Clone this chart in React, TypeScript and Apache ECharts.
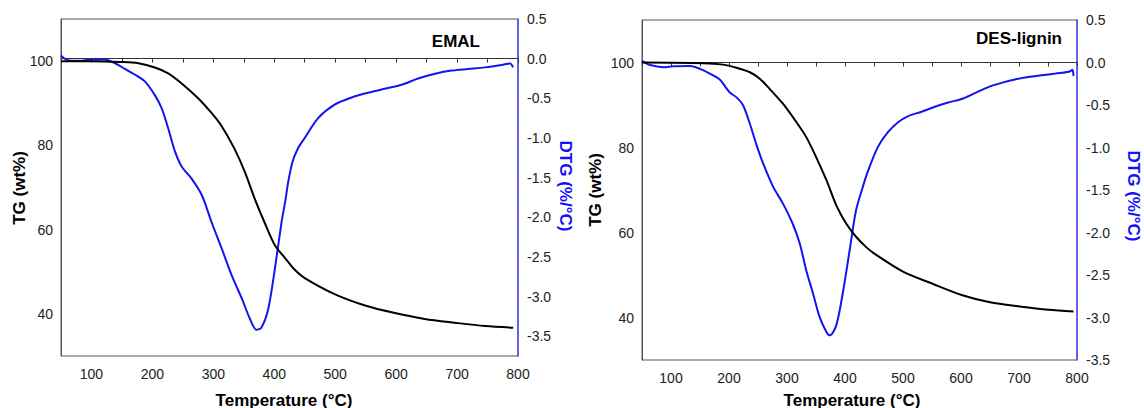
import React, { useEffect, useRef } from 'react';
import * as echarts from 'echarts';

// ---- EMAL ----
const emalTgTemp = [50, 100, 149, 177, 204, 226, 248, 275, 297, 314, 335, 352, 368, 385, 401, 418, 434, 450, 499, 549, 598, 647, 696, 746, 792];
const emalTg = [100, 100, 99.8, 99.5, 98.5, 97.1, 94.7, 91.2, 87.7, 84.5, 79.1, 73.6, 67.3, 61.4, 56.3, 53.2, 50.4, 48.5, 44.7, 42.0, 40.2, 38.8, 37.9, 37.1, 36.7];
const emalDtgTemp = [50, 56, 67, 84, 100, 122, 138, 155, 171, 188, 204, 215, 226, 237, 248, 264, 281, 297, 314, 330, 347, 360, 371, 379, 390, 401, 412, 418, 423, 430, 439, 450, 472, 499, 527, 554, 581, 609, 636, 664, 691, 718, 746, 773, 787, 792];
const emalDtg = [0.04, 0, -0.025, -0.025, -0.01, -0.01, -0.055, -0.13, -0.2, -0.29, -0.46, -0.62, -0.88, -1.17, -1.36, -1.51, -1.72, -2.06, -2.4, -2.73, -3.03, -3.28, -3.42, -3.39, -3.16, -2.65, -2.06, -1.8, -1.55, -1.3, -1.13, -1.0, -0.75, -0.58, -0.49, -0.43, -0.38, -0.33, -0.25, -0.19, -0.15, -0.13, -0.11, -0.08, -0.06, -0.11];

// ---- DES-lignin ----
const desTgTemp = [50, 156, 190, 213, 236, 253, 270, 293, 316, 333, 350, 368, 385, 402, 419, 437, 450, 500, 550, 601, 650, 701, 751, 794];
const desTg = [100, 99.85, 99.5, 98.75, 97.7, 96.2, 93.8, 90.3, 86.0, 82.5, 77.8, 72.3, 66.4, 62.1, 59.0, 56.5, 55.1, 50.8, 48.0, 45.3, 43.6, 42.6, 41.8, 41.4];
const desDtgTemp = [50, 64, 87, 104, 133, 150, 167, 184, 201, 213, 224, 236, 247, 259, 276, 293, 310, 322, 333, 345, 356, 368, 374, 385, 396, 408, 419, 430, 440, 457, 474, 492, 509, 532, 555, 578, 601, 624, 647, 670, 693, 716, 739, 763, 786, 792, 794];
const desDtg = [0.02, -0.03, -0.055, -0.043, -0.04, -0.075, -0.13, -0.2, -0.35, -0.41, -0.5, -0.72, -0.96, -1.19, -1.46, -1.66, -1.9, -2.13, -2.44, -2.72, -2.99, -3.17, -3.21, -3.09, -2.72, -2.21, -1.74, -1.48, -1.27, -0.99, -0.82, -0.7, -0.63, -0.58, -0.52, -0.47, -0.43, -0.36, -0.29, -0.24, -0.2, -0.17, -0.15, -0.13, -0.11, -0.086, -0.16];

// ---- axes / labels ----
const tgTickLabels = [40, 60, 80, 100];
const panelTitles = ['EMAL', 'DES-lignin'];
const xName = 'Temperature (°C)';
const tgName = 'TG (wt%)';
const dtgName = 'DTG (%/°C)';

const FONT = '"Liberation Sans", Arial, sans-serif';
const BLUE = '#1414f0';
const BLUE_AXIS = '#4a4aff';

const pairs = (xs: number[], ys: number[]) => xs.map((x, i) => [x, ys[i]]);

const labelStyle = { fontFamily: FONT, fontSize: 14, color: '#222' };

function xAxisDef(gridIndex: number) {
  return {
    type: 'value',
    gridIndex,
    min: 50,
    max: 800,
    interval: 50,
    axisLine: { show: true, lineStyle: { color: '#333', width: 1 } },
    axisTick: { show: true, length: 4, inside: false, lineStyle: { color: '#333' } },
    axisLabel: {
      ...labelStyle,
      margin: 11,
      interval: 0,
      showMinLabel: true,
      showMaxLabel: true,
      formatter: (v: number) => (v % 100 === 0 ? String(v) : ''),
    },
    splitLine: { show: false },
  };
}

function tgAxisDef(gridIndex: number) {
  return {
    type: 'value',
    gridIndex,
    position: 'left',
    min: 30,
    max: 110,
    interval: 10,
    axisLine: { show: true, lineStyle: { color: '#555', width: 1 } },
    axisTick: { show: false },
    axisLabel: {
      ...labelStyle,
      margin: 8,
      formatter: (v: number) => (tgTickLabels.includes(Math.round(v)) ? String(Math.round(v)) : ''),
    },
    splitLine: { show: false },
  };
}

function dtgAxisDef(gridIndex: number, min: number, interval: number) {
  return {
    type: 'value',
    gridIndex,
    position: 'right',
    min,
    max: 0.5,
    interval,
    axisLine: { show: true, lineStyle: { color: BLUE_AXIS, width: 1.5 } },
    axisTick: { show: false },
    axisLabel: {
      ...labelStyle,
      margin: 9,
      formatter: (v: number) =>
        Math.abs(v * 2 - Math.round(v * 2)) < 1e-6 ? (Math.round(v * 2) / 2).toFixed(1).replace('-0.0', '0.0') : '',
    },
    splitLine: { show: false },
  };
}

function lineSeries(xi: number, yi: number, data: number[][], color: string) {
  return {
    type: 'line',
    xAxisIndex: xi,
    yAxisIndex: yi,
    data,
    showSymbol: false,
    symbol: 'none',
    smooth: 0.3,
    lineStyle: { color, width: 2 },
    silent: true,
  };
}

const nameFont = { fontFamily: FONT, fontSize: 17, fontWeight: 'bold' };

function textG(text: string, x: number, y: number, rotation: number, fill: string, align = 'center') {
  return {
    type: 'text',
    x,
    y,
    rotation,
    style: { text, ...nameFont, fill, align, verticalAlign: 'middle' },
    silent: true,
  };
}

export default function App() {
  const ref = useRef<HTMLDivElement>(null);
  useEffect(() => {
    if (!ref.current) return;
    const chart = echarts.init(ref.current, undefined, { renderer: 'svg' });
    chart.setOption({
      animation: false,
      backgroundColor: '#ffffff',
      grid: [
        { left: 61, top: 19, width: 457, height: 337, show: true, borderColor: '#555', borderWidth: 1, backgroundColor: 'transparent' },
        { left: 642, top: 20, width: 435, height: 340, show: true, borderColor: '#555', borderWidth: 1, backgroundColor: 'transparent' },
      ],
      xAxis: [xAxisDef(0), xAxisDef(1)],
      yAxis: [tgAxisDef(0), dtgAxisDef(0, -3.75, 0.25), tgAxisDef(1), dtgAxisDef(1, -3.5, 0.5)],
      series: [
        lineSeries(0, 1, pairs(emalDtgTemp, emalDtg), BLUE),
        lineSeries(0, 0, pairs(emalTgTemp, emalTg), '#000000'),
        lineSeries(1, 3, pairs(desDtgTemp, desDtg), BLUE),
        lineSeries(1, 2, pairs(desTgTemp, desTg), '#000000'),
      ],
      graphic: [
        textG(tgName, 19, 188, Math.PI / 2, '#000'),
        textG(dtgName, 565, 186, -Math.PI / 2, '#1010ff'),
        textG(xName, 284, 400, 0, '#000'),
        textG(panelTitles[0], 480, 41, 0, '#000', 'right'),
        textG(tgName, 595, 190, Math.PI / 2, '#000'),
        textG(dtgName, 1133, 196, -Math.PI / 2, '#1010ff'),
        textG(xName, 852, 400, 0, '#000'),
        textG(panelTitles[1], 1062, 38, 0, '#000', 'right'),
      ],
    });
    return () => chart.dispose();
  }, []);
  return (
    <div
      ref={ref}
      style={{ position: 'fixed', left: 0, top: 0, width: 1144, height: 408, background: '#fff' }}
    />
  );
}
